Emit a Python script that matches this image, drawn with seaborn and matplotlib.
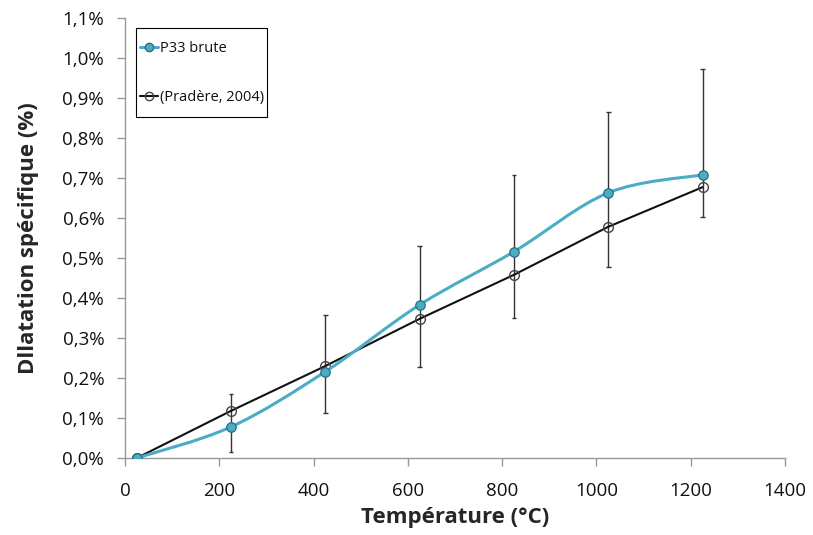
import numpy as np
import pandas as pd
import matplotlib
matplotlib.use("Agg")
import matplotlib.pyplot as plt
import seaborn as sns
from matplotlib.path import Path
from matplotlib.patches import PathPatch, Rectangle
from matplotlib.lines import Line2D
from matplotlib.ticker import FuncFormatter, MultipleLocator

# ── Data ─────────────────────────────────────────────────────────────────────
temperature = [25, 225, 425, 625, 825, 1025, 1225]
p33_brute   = [0.000, 0.078, 0.216, 0.383, 0.516, 0.663, 0.708]   # %
pradere     = [0.000, 0.118, 0.230, 0.348, 0.458, 0.578, 0.677]   # %
err_low     = [0.000, 0.015, 0.113, 0.228, 0.350, 0.477, 0.602]   # %
err_high    = [0.000, 0.159, 0.357, 0.531, 0.707, 0.864, 0.972]   # %

df = pd.DataFrame({"T": temperature, "p33": p33_brute, "pradere": pradere,
                   "lo": err_low, "hi": err_high})

TEAL = "#4BACC6"
TEAL_EDGE = "#2C6E80"

sns.set_theme(style="white")
plt.rcParams["font.family"] = ["Open Sans", "DejaVu Sans"]

fig = plt.figure(figsize=(8.13, 5.35), dpi=100)
ax = fig.add_axes([0.1538, 0.1439, 0.8118, 0.8225])

# ── Error bars ───────────────────────────────────────────────────────────────
mask = df["hi"] > df["lo"]
ax.vlines(df.loc[mask, "T"], df.loc[mask, "lo"], df.loc[mask, "hi"],
          color="#333333", lw=1.0, zorder=2)
for col in ["lo", "hi"]:
    ax.hlines(df.loc[mask, col], df.loc[mask, "T"] - 5, df.loc[mask, "T"] + 5,
              color="#333333", lw=1.0, zorder=2)

# ── Pradère (straight segments, open markers) ───────────────────────────────
sns.lineplot(data=df, x="T", y="pradere", ax=ax, color="#111111", lw=1.5,
             marker="o", markersize=7, markerfacecolor="none",
             markeredgecolor="#444444", markeredgewidth=1.0, zorder=3)

# ── P33 brute (smoothed curve, Catmull-Rom as Bezier) ───────────────────────
pts = df[["T", "p33"]].to_numpy(dtype=float)
verts = [pts[0]]
codes = [Path.MOVETO]
n = len(pts)
for i in range(n - 1):
    p0 = pts[i - 1] if i > 0 else pts[i]
    p1, p2 = pts[i], pts[i + 1]
    p3 = pts[i + 2] if i + 2 < n else pts[i + 1]
    c1 = p1 + (p2 - p0) / 6.0
    c2 = p2 - (p3 - p1) / 6.0
    verts += [c1, c2, p2]
    codes += [Path.CURVE4] * 3
ax.add_patch(PathPatch(Path(verts, codes), fill=False, edgecolor=TEAL, lw=2.2,
                       zorder=4))
sns.scatterplot(data=df, x="T", y="p33", ax=ax, color=TEAL, s=46,
                edgecolor=TEAL_EDGE, linewidth=0.9, zorder=5)

# ── Axes ─────────────────────────────────────────────────────────────────────
ax.set_xlim(0, 1400)
ax.set_ylim(0, 1.1)
ax.xaxis.set_major_locator(MultipleLocator(200))
ax.yaxis.set_major_locator(MultipleLocator(0.1))
ax.yaxis.set_major_formatter(FuncFormatter(lambda v, _: f"{v:.1f}%".replace(".", ",")))

for side in ["top", "right"]:
    ax.spines[side].set_visible(False)
for side in ["left", "bottom"]:
    ax.spines[side].set_color("#999999")
    ax.spines[side].set_linewidth(1.0)
ax.tick_params(axis="both", which="major", direction="out", length=6, width=1,
               color="#999999", labelsize=13.5, labelcolor="#111111", pad=9)
ax.tick_params(axis="x", bottom=True, pad=11)
ax.tick_params(axis="y", left=True)

ax.set_xlabel("Température (°C)", fontsize=16, fontweight="bold", labelpad=5)
ax.set_ylabel("Dllatation spécifique (%)", fontsize=16, fontweight="bold",
              labelpad=17)

# ── Legend (frame drawn separately to match the tight side padding) ─────────
ax.add_patch(Rectangle((0.0167, 0.775), 0.198, 0.202, transform=ax.transAxes,
                       fill=True, facecolor="white", edgecolor="black",
                       lw=0.8, zorder=6))
handles = [
    Line2D([], [], color=TEAL, lw=2.2, marker="o", markersize=6,
           markerfacecolor=TEAL, markeredgecolor=TEAL_EDGE),
    Line2D([], [], color="#111111", lw=1.5, marker="o", markersize=6,
           markerfacecolor="none", markeredgecolor="#444444"),
]
leg = ax.legend(handles, ["P33 brute", "(Pradère, 2004)"], loc="upper left",
                bbox_to_anchor=(0.0227, 0.947), frameon=False,
                fontsize=10.5, handlelength=1.25, handletextpad=0.1,
                labelspacing=2.3, borderpad=0.0, borderaxespad=0.0)
leg.set_zorder(7)
for t in leg.get_texts():
    t.set_color("#111111")

fig.savefig("out.png", dpi=100)
